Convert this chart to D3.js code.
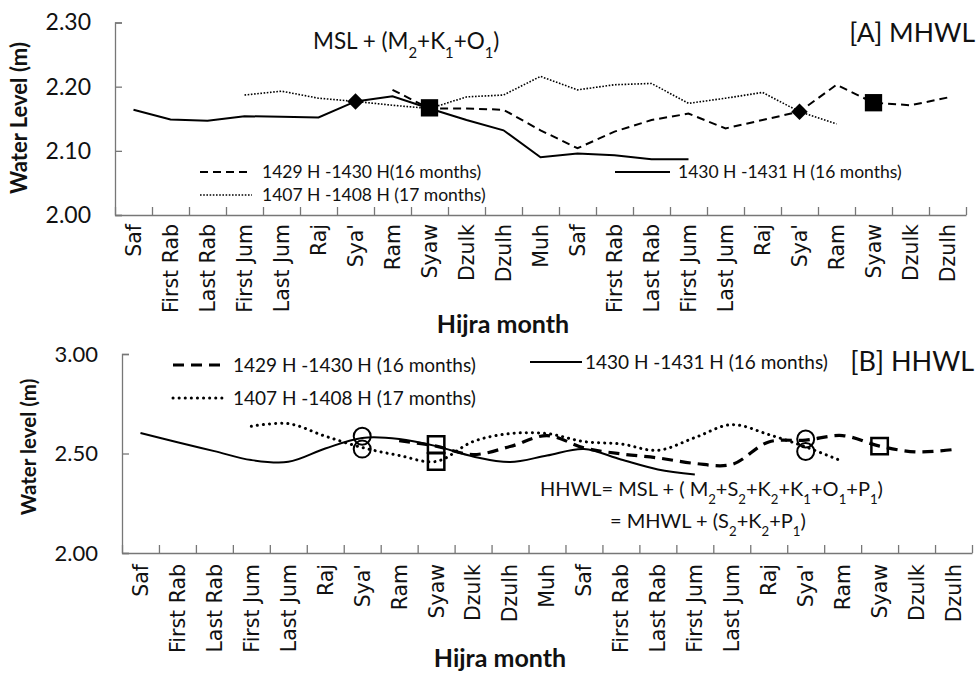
<!DOCTYPE html>
<html>
<head>
<meta charset="utf-8">
<script src="https://cdn.jsdelivr.net/npm/d3@7"></script>
<style>
  body { margin: 0; background: #fff; }
  svg { display: block; }
  text { fill: #111; }
</style>
</head>
<body>
<svg width="978" height="673"></svg>
<script>
// month labels (two hijra years, 23 slots)
const months = ["Saf", "First Rab", "Last Rab", "First Jum", "Last Jum", "Raj", "Sya'", "Ram", "Syaw",
    "Dzulk", "Dzulh", "Muh", "Saf", "First Rab", "Last Rab", "First Jum", "Last Jum", "Raj", "Sya'",
    "Ram", "Syaw", "Dzulk", "Dzulh"];

// [A] MHWL
const mhwl1430 = [2.164, 2.149, 2.147, 2.154, 2.153, 2.152, 2.177, 2.185, 2.166, 2.148, 2.132, 2.090,
    2.096, 2.093, 2.087, 2.087];                                   // starts at Saf (0)
const mhwl1429 = [2.195, 2.166, 2.166, 2.164, 2.132, 2.104, 2.130, 2.148, 2.158, 2.135, 2.148, 2.161,
    2.203, 2.175, 2.171, 2.183];                                   // starts at Ram (7)
const mhwl1407 = [2.187, 2.193, 2.182, 2.177, 2.171, 2.166, 2.184, 2.187, 2.216, 2.195, 2.203, 2.205,
    2.174, 2.182, 2.191, 2.161, 2.142];                            // starts at First Jum (3)
const mhwlDiamonds = [[6, 2.177], [18, 2.161]];
const mhwlSquares = [[8, 2.167], [20, 2.175]];
const mhwlTicks = [2.0, 2.1, 2.2, 2.3];

// [B] HHWL
const hhwl1430 = [2.603, 2.557, 2.512, 2.467, 2.458, 2.525, 2.578, 2.573, 2.537, 2.485, 2.457, 2.490,
    2.523, 2.470, 2.420, 2.395];                                   // starts at Saf (0)
const hhwl1429 = [2.565, 2.537, 2.495, 2.535, 2.590, 2.528, 2.498, 2.478, 2.450, 2.445, 2.558, 2.567,
    2.590, 2.537, 2.508, 2.520];                                   // starts at Ram (7)
const hhwl1407 = [2.637, 2.650, 2.587, 2.530, 2.490, 2.460, 2.560, 2.600, 2.600, 2.560, 2.548, 2.516,
    2.580, 2.645, 2.595, 2.533, 2.460];                            // starts at First Jum (3)
const hhwlCircles = [[6, 2.587], [6, 2.522], [18, 2.573], [18, 2.510]];
const hhwlSquares = [[8, 2.545], [8, 2.460], [20, 2.537]];
const hhwlTicks = [2.0, 2.5, 3.0];

const svg = d3.select("svg");
const calib = "Lato, 'Open Sans', sans-serif";

function series(vals, start) {
    return vals.map((v, i) => ({ m: start + i, v }));
}

function richText(parent, x, y, parts, size, anchor) {
    const t = parent.append("text")
        .attr("x", x).attr("y", y)
        .style("font-family", calib)
        .style("font-size", size + "px")
        .attr("text-anchor", anchor || "start");
    parts.forEach(p => {
        const s = t.append("tspan").text(p[0]);
        if (p[1]) s.attr("baseline-shift", "sub").style("font-size", (size * 0.66) + "px");
    });
    return t;
}

function drawPanel(cfg) {
    const g = svg.append("g");
    const xBand = d3.scaleBand().domain(d3.range(months.length)).range([cfg.x0, cfg.x1]);
    const xEdge = d3.scaleLinear().domain([0, months.length]).range([cfg.x0, cfg.x1]);
    const y = d3.scaleLinear().domain([2.0, cfg.ymax]).range([cfg.y1, cfg.y0]);
    const cx = m => xBand(m) + xBand.bandwidth() / 2;

    // y axis
    const ya = g.append("g").attr("transform", `translate(${cfg.x0},0)`)
        .call(d3.axisLeft(y).tickValues(cfg.ticks).tickFormat(d3.format(".2f"))
            .tickSize(-7).tickPadding(24));
    ya.selectAll("path, line").attr("stroke", "#777").attr("stroke-width", 1.3);
    ya.selectAll("text").style("font-family", calib).style("font-size", cfg.yfs + "px").attr("fill", "#111");

    // x axis: ticks between months
    const xa = g.append("g").attr("transform", `translate(0,${cfg.y1})`)
        .call(d3.axisBottom(xEdge).tickValues(d3.range(months.length + 1)).tickFormat("")
            .tickSize(-8).tickSizeOuter(0));
    xa.selectAll("path, line").attr("stroke", "#777").attr("stroke-width", 1.3);

    const xl = g.append("g").attr("transform", `translate(0,${cfg.y1})`)
        .call(d3.axisBottom(xBand).tickSize(0).tickFormat(i => months[i]));
    xl.select(".domain").remove();
    xl.selectAll("text")
        .attr("transform", "rotate(-90)")
        .attr("x", -cfg.labelGap).attr("y", 0).attr("dy", "0.36em")
        .attr("text-anchor", "end")
        .style("font-family", "'DejaVu Sans', Verdana, sans-serif")
        .style("font-size", "20.5px").attr("fill", "#111");

    // titles
    g.append("text")
        .attr("transform", `translate(${cfg.ytitleX},${cfg.ytitleY}) rotate(-90)`)
        .attr("text-anchor", "middle")
        .style("font-family", calib).style("font-weight", "bold").style("font-size", cfg.ytfs + "px")
        .text(cfg.ytitle);
    g.append("text")
        .attr("x", cfg.xtitleX).attr("y", cfg.xtitleY)
        .attr("text-anchor", "middle")
        .style("font-family", calib).style("font-weight", "bold").style("font-size", "25px")
        .text("Hijra month");

    // lines
    const line = d3.line().x(d => cx(d.m)).y(d => y(d.v)).curve(cfg.curve);
    cfg.lines.forEach(s => {
        g.append("path")
            .datum(series(s.vals, s.start))
            .attr("d", line)
            .attr("fill", "none")
            .attr("stroke", "#000")
            .attr("stroke-width", s.style.w)
            .attr("stroke-dasharray", s.style.dash)
            .attr("stroke-linecap", s.style.cap || "butt");
    });

    // markers
    cfg.markers.forEach(mk => {
        g.selectAll(null).data(mk.pts).enter().append("path")
            .attr("transform", d => `translate(${cx(d[0])},${y(d[1])}) rotate(${mk.rot || 0})`)
            .attr("d", d3.symbol(mk.type, mk.size)())
            .attr("fill", mk.fill)
            .attr("stroke", "#000")
            .attr("stroke-width", mk.sw || 0);
    });

    // legend
    cfg.legend.forEach(l => {
        g.append("line")
            .attr("x1", l.x).attr("x2", l.x + l.len).attr("y1", l.y).attr("y2", l.y)
            .attr("stroke", "#000").attr("stroke-width", l.style.w)
            .attr("stroke-dasharray", l.style.dash)
            .attr("stroke-linecap", l.style.cap || "butt");
        g.append("text")
            .attr("x", l.x + l.len + l.gap).attr("y", l.y).attr("dy", "0.35em")
            .style("font-family", calib).style("font-size", l.fs + "px")
            .text(l.label);
    });
    return g;
}

const topSolid = { w: 2, dash: null };
const topDash = { w: 2, dash: "8,5" };
const topDot = { w: 1.6, dash: "1.6,1.6" };

const gA = drawPanel({
    x0: 115, x1: 966, y0: 22.5, y1: 215, ymax: 2.3, ticks: mhwlTicks, yfs: 23,
    labelGap: 9, ytitle: "Water Level (m)", ytitleX: 27, ytitleY: 118, ytfs: 22,
    xtitleX: 503, xtitleY: 333,
    curve: d3.curveLinear,
    lines: [
        { vals: mhwl1407, start: 3, style: topDot },
        { vals: mhwl1429, start: 7, style: topDash },
        { vals: mhwl1430, start: 0, style: topSolid }
    ],
    markers: [
        { pts: mhwlDiamonds, type: d3.symbolSquare, size: 135, rot: 45, fill: "#000" },
        { pts: mhwlSquares, type: d3.symbolSquare, size: 300, fill: "#000" }
    ],
    legend: [
        { x: 200, y: 172, len: 52, gap: 10, style: topDash, fs: 17.5, label: "1429 H -1430 H(16 months)" },
        { x: 200, y: 195, len: 52, gap: 10, style: topDot, fs: 17.5, label: "1407 H -1408 H (17 months)" },
        { x: 615, y: 172, len: 55, gap: 8, style: topSolid, fs: 17.5, label: "1430 H -1431 H (16 months)" }
    ]
});
richText(gA, 313, 49, [["MSL + (M"], ["2", 1], ["+K"], ["1", 1], ["+O"], ["1", 1], [")"]], 22.5);
gA.append("text").attr("x", 975).attr("y", 42).attr("text-anchor", "end")
    .style("font-family", calib).style("font-size", "26.5px").text("[A] MHWL");

const botSolid = { w: 2, dash: null };
const botDash = { w: 3.2, dash: "11,7" };
const botDot = { w: 3, dash: "0.1,6", cap: "round" };

const gB = drawPanel({
    x0: 122, x1: 972, y0: 354, y1: 553, ymax: 3.0, ticks: hhwlTicks, yfs: 22,
    labelGap: 11, ytitle: "Water level (m)", ytitleX: 36, ytitleY: 447, ytfs: 20.5,
    xtitleX: 500, xtitleY: 667,
    curve: d3.curveCatmullRom.alpha(0.5),
    lines: [
        { vals: hhwl1407, start: 3, style: botDot },
        { vals: hhwl1429, start: 7, style: botDash },
        { vals: hhwl1430, start: 0, style: botSolid }
    ],
    markers: [
        { pts: hhwlCircles, type: d3.symbolCircle, size: Math.PI * 8.5 * 8.5, fill: "none", sw: 2 },
        { pts: hhwlSquares, type: d3.symbolSquare, size: 270, fill: "none", sw: 2.5 }
    ],
    legend: [
        { x: 173, y: 365, len: 54, gap: 6, style: botDash, fs: 19, label: "1429 H -1430 H (16 months)" },
        { x: 173, y: 398, len: 52, gap: 8, style: botDot, fs: 19, label: "1407 H -1408 H (17 months)" },
        { x: 530, y: 362, len: 52, gap: 3, style: botSolid, fs: 19, label: "1430 H -1431 H (16 months)" }
    ]
});
richText(gB, 540, 496, [["HHWL= MSL + ( M"], ["2", 1], ["+S"], ["2", 1], ["+K"], ["2", 1], ["+K"], ["1", 1],
    ["+O"], ["1", 1], ["+P"], ["1", 1], [")"]], 20);
richText(gB, 610, 528, [["= MHWL + (S"], ["2", 1], ["+K"], ["2", 1], ["+P"], ["1", 1], [")"]], 20);
gB.append("text").attr("x", 974).attr("y", 371).attr("text-anchor", "end")
    .style("font-family", calib).style("font-size", "27px").text("[B] HHWL");
</script>
</body>
</html>
